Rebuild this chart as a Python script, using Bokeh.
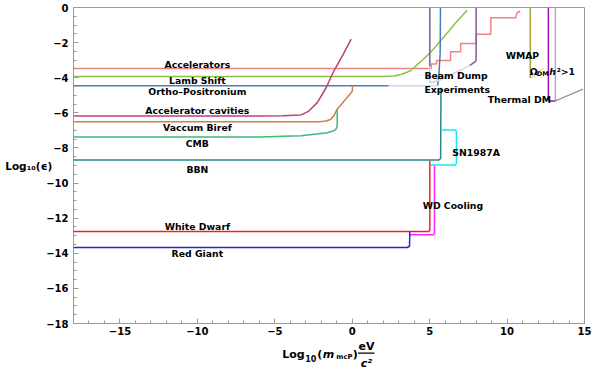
from bokeh.plotting import figure
from bokeh.models import Range1d, FixedTicker, Label
from bokeh.layouts import column
from bokeh.core.properties import value
from bokeh.embed import file_html
from bokeh.resources import INLINE

# ---------------- data ----------------
x_major = [-15, -10, -5, 0, 5, 10, 15]
x_minor = list(range(-18, 16))
y_major = [0, -2, -4, -6, -8, -10, -12, -14, -16, -18]
y_minor = [k * 0.5 for k in range(-36, 1)]

accel_x = [-18, 5.1, 5.1, 5.45, 5.45, 6.35, 6.35, 7.0, 7.0, 8.0, 8.0, 8.95, 8.95, 10.55, 10.65, 10.85]
accel_y = [-3.47, -3.47, -3.22, -3.22, -3.02, -3.02, -2.52, -2.52, -2.05, -2.05, -1.53, -1.53, -0.58, -0.58, -0.3, -0.2]

lamb_x = [-18, 2.0, 2.7, 3.2, 3.76, 4.4, 5.05, 6.0, 6.7, 7.42]
lamb_y = [-3.93, -3.93, -3.9, -3.8, -3.6, -3.1, -2.56, -1.6, -0.85, -0.15]

ortho_x = [-18, 2.36]
ortho_y = [-4.46, -4.46]
ortho_pale_x = [2.36, 5.5]
ortho_pale_y = [-4.46, -4.46]
ortho_v_x = [5.52, 5.6, 5.68, 5.7]
ortho_v_y = [-4.44, -3.8, -2.6, 0.0]

cav_x = [-18, -6, -4.5, -3.3, -2.8, -2.26, -1.7, -1.19, -0.6, -0.07]
cav_y = [-6.18, -6.18, -6.16, -6.12, -5.9, -5.42, -4.6, -3.62, -2.7, -1.8]

bir_x = [-18, -2.1, -1.7, -1.4, -1.19, -0.97, 0.0, 0.02]
bir_y = [-6.51, -6.51, -6.47, -6.38, -6.17, -5.79, -4.78, -4.5]

cmb_x = [-18, -6, -3.3, -1.6, -1.19, -1.02, -0.97, -0.97]
cmb_y = [-7.38, -7.37, -7.31, -7.13, -7.02, -6.9, -6.7, -5.84]

bbn_x = [-18, 5.6, 5.71, 5.73]
bbn_y = [-8.69, -8.69, -8.6, -4.57]

sn_x = [5.73, 6.65, 6.73, 6.73, 6.65, 5.05]
sn_y = [-6.98, -6.98, -7.08, -8.88, -8.97, -8.97]

wd_x = [-18, 4.95, 5.01, 5.01]
wd_y = [-12.76, -12.76, -12.7, -8.73]

wdc_x = [3.72, 5.25, 5.31, 5.31]
wdc_y = [-12.94, -12.94, -12.88, -9.02]

rg_x = [-18, 3.55, 3.7, 3.72]
rg_y = [-13.67, -13.67, -13.6, -12.76]

bd_left_x = [5.01, 5.01]
bd_left_y = [0.0, -3.35]
bd_pale_x = [5.01, 5.01, 5.3, 5.7, 6.1, 6.6, 7.15, 7.6]
bd_pale_y = [-3.35, -4.28, -4.24, -4.12, -3.95, -3.72, -3.5, -3.3]
bd_right_x = [7.6, 7.95, 8.0, 8.0]
bd_right_y = [-3.3, -3.08, -3.0, 0.0]

wmap_x = [11.5, 11.5]
wmap_y = [0.0, -4.02]
wmap_pale_x = [11.5, 11.9, 12.36]
wmap_pale_y = [-4.02, -3.8, -3.45]

omega_x = [12.67, 12.67, 12.73, 13.12]
omega_y = [0.0, -5.28, -5.33, -5.33]

lav_x = [13.12, 13.12]
lav_y = [0.0, -5.3]

thermal_x = [13.12, 14.9]
thermal_y = [-5.32, -4.65]

# ---------------- main figure ----------------
xr = Range1d(-18, 15)
p = figure(frame_width=511, frame_height=316,
           x_range=xr, y_range=Range1d(-18, 0),
           output_backend="svg", toolbar_location=None,
           min_border_left=73, min_border_right=8,
           min_border_top=7, min_border_bottom=17)
p.background_fill_color = "white"
p.border_fill_color = "white"
p.outline_line_color = "#9a9a9a"
p.outline_line_width = 1
p.xgrid.visible = False
p.ygrid.visible = False

GRAY = "#9a9a9a"
FONT = "DejaVu Sans"

p.xaxis.ticker = FixedTicker(ticks=x_major, minor_ticks=x_minor)
p.yaxis.ticker = FixedTicker(ticks=y_major, minor_ticks=y_minor)
p.xaxis.major_label_overrides = {v: (("\u2212" + str(abs(v))) if v < 0 else str(v)) for v in x_major}
p.yaxis.major_label_overrides = {v: (("\u2212" + str(abs(v))) if v < 0 else str(v)) for v in y_major}
for ax in (p.xaxis[0], p.yaxis[0]):
    ax.axis_line_color = GRAY
    ax.major_tick_line_color = GRAY
    ax.minor_tick_line_color = GRAY
    ax.major_tick_in = 5
    ax.major_tick_out = 0
    ax.minor_tick_in = 3
    ax.minor_tick_out = 0
    ax.major_label_text_font = FONT
    ax.major_label_text_font_style = "bold"
    ax.major_label_text_font_size = "10px"
    ax.major_label_text_color = "black"
p.yaxis.major_label_standoff = 5
p.xaxis.major_label_standoff = 3

# y-axis title, written horizontally next to the tick labels
p.yaxis.axis_label = "Log\u2081\u2080(\u03f5)"
p.yaxis.axis_label_orientation = "horizontal"
p.yaxis.axis_label_standoff = -9
p.yaxis.axis_label_text_font = FONT
p.yaxis.axis_label_text_font_style = "bold"
p.yaxis.axis_label_text_font_size = "10.5px"
p.yaxis.axis_label_text_color = "black"

LW = 1.5
def ln(x, y, c):
    p.line(x, y, line_color=c, line_width=LW)

ln(accel_x, accel_y, "#ef8282")
ln(lamb_x, lamb_y, "#8cc04c")
ln(ortho_x, ortho_y, "#4a7cc4")
ln(ortho_pale_x, ortho_pale_y, "#cddbef")
ln(ortho_v_x, ortho_v_y, "#4a7cc4")
ln(cav_x, cav_y, "#b8427f")
ln(bir_x, bir_y, "#c4844a")
ln(cmb_x, cmb_y, "#40b878")
ln(bbn_x, bbn_y, "#2a8888")
ln(sn_x, sn_y, "#10eaf2")
ln(wd_x, wd_y, "#ee2424")
ln(wdc_x, wdc_y, "#ff24ff")
ln(rg_x, rg_y, "#2424dd")
ln(bd_pale_x, bd_pale_y, "#dccfe8")
ln(bd_left_x, bd_left_y, "#7e5c9e")
ln(bd_right_x, bd_right_y, "#7e5c9e")
ln(wmap_pale_x, wmap_pale_y, "#e2deae")
ln(wmap_x, wmap_y, "#a8a032")
ln(lav_x, lav_y, "#b4a6c6")
ln(omega_x, omega_y, "#9c12aa")
ln(thermal_x, thermal_y, "#999999")

def lab(x, y, t, size="9.3px", align="center", style="bold"):
    p.add_layout(Label(x=x, y=y, text=t,
                       text_font=FONT, text_font_style=style,
                       text_font_size=size, text_align=align, text_baseline="middle",
                       text_color="black"))

lab(-10, -3.22, "Accelerators")
lab(-10, -4.17, "Lamb Shift")
lab(-10, -4.8, "Ortho\u2013Positronium")
lab(-10, -5.88, "Accelerator cavities")
lab(-10, -6.83, "Vaccum Biref")
lab(-10, -7.74, "CMB")
lab(-10, -9.24, "BBN")
lab(-10, -12.49, "White Dwarf")
lab(-10, -14.0, "Red Giant")
lab(4.66, -3.89, "Beam Dump", align="left")
lab(4.66, -4.69, "Experiments", align="left")
lab(8.0, -8.26, "SN1987A")
lab(6.5, -11.29, "WD Cooling")
lab(10.99, -2.71, "WMAP")
lab(10.79, -5.24, "Thermal DM")
lab(11.46, -3.64, "\u03a9", align="left")
lab(11.92, -3.78, "DM", size="6.5px", align="left")
lab(12.72, -3.64, "h", align="left", style="bold italic")
lab(13.2, -3.64, "\u00b2>1", align="left")

# ---------------- strip below, sharing the x range, for the x-axis title ----------------
pb = figure(width=592, height=32, x_range=xr, y_range=Range1d(372, 340),
            output_backend="svg", toolbar_location=None,
            x_axis_location=None, y_axis_location=None,
            min_border_left=73, min_border_right=8, min_border_top=0, min_border_bottom=0)
pb.outline_line_color = None
pb.xgrid.visible = False
pb.ygrid.visible = False
pb.background_fill_color = "white"
pb.border_fill_color = "white"

def px2x(sx):
    return -18 + (sx - 73) / 15.485

def tb(sx, y, t, size="11px", align="left", style="bold"):
    pb.text(x=[px2x(sx)], y=[y], text=[t], text_font=value(FONT), text_font_style=style,
            text_font_size=value(size), text_align=align, text_baseline="middle",
            text_color="black")

tb(281.7, 354.3, "Log")
tb(304.8, 357.6, "10", size="8px")
tb(316.8, 354.3, "(")
tb(322.2, 354.3, "m", style="bold italic")
tb(335.8, 356.6, "mcP", size="6.8px")
tb(352.2, 354.3, ")")
tb(366.0, 345.8, "eV", align="center")
pb.line([px2x(357.5), px2x(374.0)], [352.7, 352.7], line_color="black", line_width=1.2)
tb(366.0, 363.2, "c\u00b2", align="center", style="bold italic")

layout = column(p, pb, spacing=0)
open("out.html", "w").write(file_html(layout, INLINE))
